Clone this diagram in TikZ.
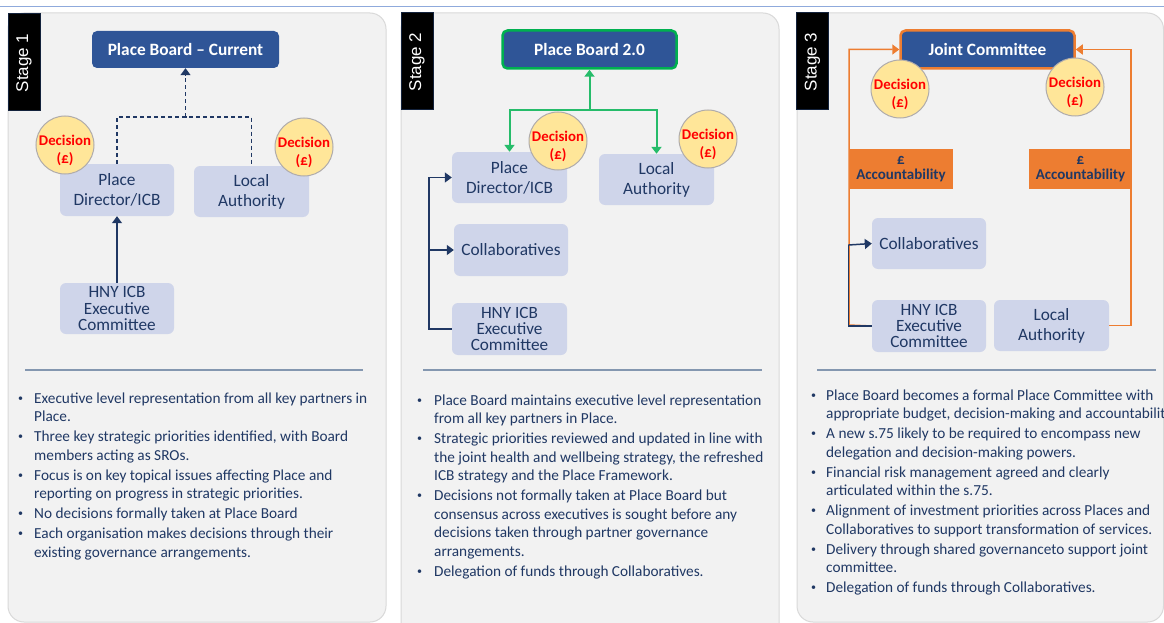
\documentclass[tikz,border=0pt]{standalone}
\usepackage{fontspec}
\setmainfont{Carlito}
\newfontfamily\arialf{Liberation Sans}
\usetikzlibrary{arrows.meta}
\definecolor{cNavy}{HTML}{203864}
\definecolor{cBox}{HTML}{CFD5EA}
\definecolor{cDark}{HTML}{2F5597}
\definecolor{cGreen}{HTML}{00B050}
\definecolor{cOrange}{HTML}{ED7D31}
\definecolor{cDec}{HTML}{FFE699}
\definecolor{cDecB}{HTML}{AFABAB}
\definecolor{cRed}{HTML}{FF0000}
\definecolor{cPanel}{HTML}{F2F2F2}
\definecolor{cPanelB}{HTML}{D9D9D9}
\definecolor{cSep}{HTML}{8497B0}
\definecolor{cTop}{HTML}{8FAADC}
\tikzset{
 panel/.style={fill=cPanel, draw=cPanelB, line width=1pt, rounded corners=16pt},
 tabbox/.style={fill=black, draw=cNavy!60!black, line width=0.6pt, minimum width=32pt, minimum height=97pt, inner sep=0pt},
 tabtext/.style={rotate=90, text=white, font=\arialf\fontsize{17}{17}\selectfont, inner sep=0pt},
 box/.style={fill=cBox, rounded corners=6pt, text=cNavy, align=center, inner sep=0pt, font=\fontsize{17.3}{20}\selectfont},
 box3/.style={box, font=\fontsize{17.2}{16.2}\selectfont},
 hdr/.style={fill=cDark, rounded corners=5pt, text=white, inner sep=0pt, font=\bfseries\fontsize{17.3}{18}\selectfont},
 dec/.style={circle, fill=cDec, draw=cDecB, line width=1pt, minimum size=58pt, inner sep=0pt},
 dectext/.style={inner sep=0pt, text=cRed, align=center, font=\bfseries\fontsize{14.8}{18}\selectfont},
 acc/.style={fill=cOrange, text=cNavy, align=center, inner sep=0pt, minimum height=40pt, font=\bfseries\fontsize{15}{14.5}\selectfont},
 tip/.style={-{Triangle[width=10pt,length=7pt]}},
 navyline/.style={draw=cNavy, line width=1.5pt},
 dashline/.style={draw=cNavy, line width=1.5pt, dash pattern=on 4pt off 3pt},
 greenline/.style={draw=cGreen!85!white, line width=2pt},
 orangeline/.style={draw=cOrange, line width=1.5pt},
 sepline/.style={draw=cSep, line width=1.5pt},
 bullets/.style={anchor=base west, inner sep=0pt, text=cNavy, font=\fontsize{15.3}{18.5}\selectfont}
}
\newcommand\bdot{\raisebox{1.8pt}{\fontsize{10}{10}\selectfont\textbullet}}
\newcommand\decnode[3]{%
  \node[dec] (#1) at (#2,#3) {};
  \node[dectext] (#1t) at ([yshift=-5pt]#1.center) {Decision\\(£)};}
\begin{document}
\begin{tikzpicture}[x=1pt,y=-1pt]
\useasboundingbox (0,0) rectangle (1164,623);
\fill[white] (0,0) rectangle (1164,623);
\draw[cTop, line width=1.5pt] (0,6.5) -- (1164,6.5);

% panels
\draw[panel] (8,13) rectangle (386,622);
\draw[panel] (401,13) rectangle (779,640);
\draw[panel] (797,13) rectangle (1163.5,622);

% stage tabs
\node[tabbox] (t1) at (24,61.5) {};
\node[tabtext] (t1t) at ([yshift=-1.5pt]t1.center) {Stage 1};
\node[tabbox] (t2) at (417,60.5) {};
\node[tabtext] (t2t) at ([yshift=-1.5pt]t2.center) {Stage 2};
\node[tabbox] (t3) at (812.5,60.5) {};
\node[tabtext] (t3t) at ([yshift=-1.5pt]t3.center) {Stage 3};

% ---------- Stage 1 ----------
\node[hdr, minimum width=187pt, minimum height=37pt] (pb1) at (185.5,49.5) {Place Board -- Current};
\node[box, minimum width=114pt, minimum height=52pt] (pd1) at (117,190) {Place\\Director/ICB};
\node[box, minimum width=115pt, minimum height=51pt] (la1) at (251.5,191.5) {Local\\Authority};
\node[box3, minimum width=114pt, minimum height=51pt] (hny1) at (117,308.5) {HNY ICB\\Executive\\Committee};
\coordinate (j1) at (185.5,117);
\draw[dashline] (pd1.north) |- (j1) -| (la1.north);
\draw[dashline, tip] (j1) -- (pb1.south);
\draw[navyline, tip] (hny1.north) -- (pd1.south);
\decnode{d1a}{65}{145}
\decnode{d1b}{304}{147}

% ---------- Stage 2 ----------
\node[hdr, draw=cGreen, line width=2.5pt, minimum width=174pt, minimum height=38pt] (pb2) at (589.5,49.5) {Place Board 2.0};
\node[box, minimum width=115pt, minimum height=51pt] (pd2) at (509.5,177.5) {Place\\Director/ICB};
\node[box, minimum width=115pt, minimum height=51pt] (la2) at (656.5,179.5) {Local\\Authority};
\node[box, minimum width=114pt, minimum height=52pt] (col2) at (511,250) {Collaboratives};
\node[box3, minimum width=115pt, minimum height=52pt] (hny2) at (509.5,329) {HNY ICB\\Executive\\Committee};
\coordinate (j2) at (589.5,110);
\draw[greenline, tip] (j2) -- (pb2.south);
\draw[greenline, tip] (j2) -| (pd2.north);
\draw[greenline, tip] (j2) -| (la2.north);
\coordinate (b2) at (429,250);
\draw[navyline, tip] (hny2.west) -| (b2) |- (pd2.west);
\draw[navyline, tip] (b2) -- (col2.west);
\decnode{d2a}{558}{141}
\decnode{d2b}{708}{139}

% ---------- Stage 3 ----------
\node[hdr, draw=cOrange, line width=2.5pt, minimum width=174pt, minimum height=38pt] (jc) at (987.5,49.5) {Joint Committee};
\node[box, minimum width=114pt, minimum height=51pt] (col3) at (929,243.5) {Collaboratives};
\node[box3, minimum width=114pt, minimum height=52pt] (hny3) at (929,326) {HNY ICB\\Executive\\Committee};
\node[box, minimum width=115pt, minimum height=51pt] (la3) at (1051.5,325.5) {Local\\Authority};
\coordinate (b3) at (849,325);
\coordinate (r3) at (1131,325.5);
\draw[orangeline, tip] (hny3.west) -- (b3) |- (jc.west);
\draw[orangeline, tip] (la3.east) -- (r3) |- (jc.east);
\coordinate (c3) at (848.5,245);
\draw[navyline] (hny3.west) -| (c3);
\draw[navyline, tip] (c3) -- (col3.west);
\node[acc, minimum width=104pt] (acc1) at (901,169) {£\\Accountability};
\node[acc, minimum width=103pt] (acc2) at (1080.5,169) {£\\Accountability};
\decnode{d3a}{900}{89}
\decnode{d3b}{1075}{87}

% separators
\coordinate (s1a) at (25,370); \coordinate (s1b) at (363,370);
\coordinate (s2a) at (423,370); \coordinate (s2b) at (762,370);
\coordinate (s3a) at (817,370); \coordinate (s3b) at (1156,370);
\draw[sepline] (s1a) -- (s1b);
\draw[sepline] (s2a) -- (s2b);
\draw[sepline] (s3a) -- (s3b);

% bullet texts
\node[bullets] (txt1) at (18,403) {\begin{tabular}[t]{@{}p{16pt}@{}l@{}}
\bdot & Executive level representation from all key partners in\\
 & Place.\\[1.5pt]
\bdot & Three key strategic priorities identified, with Board\\
 & members acting as SROs.\\[1.5pt]
\bdot & Focus is on key topical issues affecting Place and\\
 & reporting on progress in strategic priorities.\\[1.5pt]
\bdot & No decisions formally taken at Place Board\\[1.5pt]
\bdot & Each organisation makes decisions through their\\
 & existing governance arrangements.
\end{tabular}};
\node[bullets] (txt2) at (417,405) {\begin{tabular}[t]{@{}p{17pt}@{}l@{}}
\bdot & Place Board maintains executive level representation\\
 & from all key partners in Place.\\[1.5pt]
\bdot & Strategic priorities reviewed and updated in line with\\
 & the joint health and wellbeing strategy, the refreshed\\
 & ICB strategy and the Place Framework.\\[1.5pt]
\bdot & Decisions not formally taken at Place Board but\\
 & consensus across executives is sought before any\\
 & decisions taken through partner governance\\
 & arrangements.\\[1.5pt]
\bdot & Delegation of funds through Collaboratives.
\end{tabular}};
\node[bullets] (txt3) at (811,400) {\begin{tabular}[t]{@{}p{15pt}@{}l@{}}
\bdot & Place Board becomes a formal Place Committee with\\
 & appropriate budget, decision-making and accountability\\[1.5pt]
\bdot & A new s.75 likely to be required to encompass new\\
 & delegation and decision-making powers.\\[1.5pt]
\bdot & Financial risk management agreed and clearly\\
 & articulated within the s.75.\\[1.5pt]
\bdot & Alignment of investment priorities across Places and\\
 & Collaboratives to support transformation of services.\\[1.5pt]
\bdot & Delivery through shared governanceto support joint\\
 & committee.\\[1.5pt]
\bdot & Delegation of funds through Collaboratives.
\end{tabular}};
\end{tikzpicture}
\end{document}
